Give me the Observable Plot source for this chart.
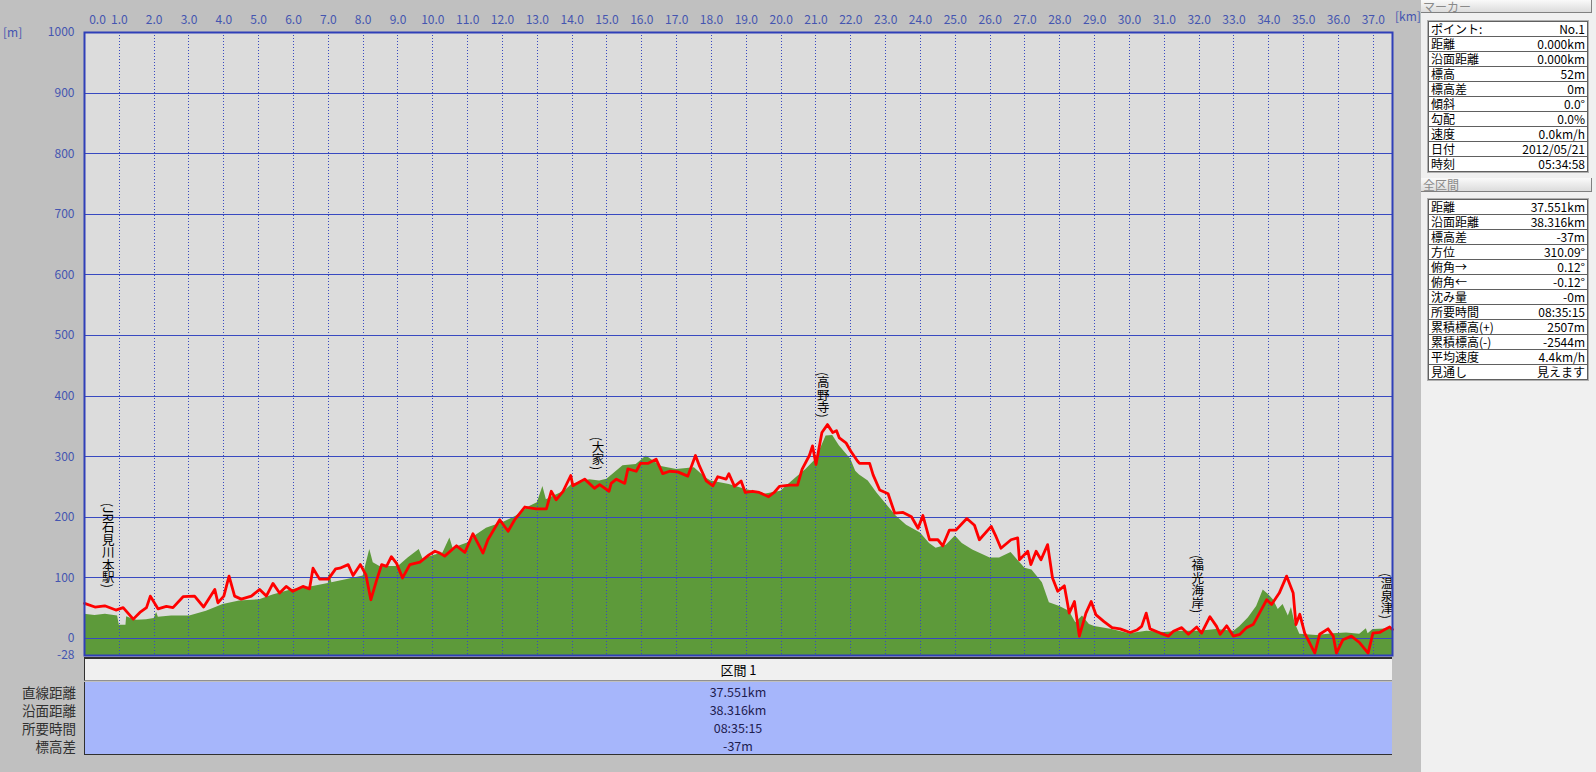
<!DOCTYPE html>
<html><head><meta charset="utf-8">
<script src="https://cdn.jsdelivr.net/npm/d3@7"></script>
<script src="https://cdn.jsdelivr.net/npm/@observablehq/plot@0.6"></script>
<style>
html,body{margin:0;padding:0;}
body{width:1596px;height:772px;background:#c0c0c0;position:relative;overflow:hidden;font-family:"Noto Sans CJK JP","Noto Sans",sans-serif;}
#chart{position:absolute;left:0;top:0;width:1421px;height:660px;}
.unit{position:absolute;color:#4455b0;font-size:12px;line-height:14px;}
#right{position:absolute;left:1421px;top:0;width:175px;height:772px;background:#f0f0f0;}
.bar{position:absolute;left:1421px;width:171px;height:13px;background:linear-gradient(#fafafa,#dcdcdc);border-right:1px solid #808080;border-bottom:1px solid #808080;color:#8a8a8a;font-size:12px;line-height:13px;padding-left:2px;box-sizing:border-box;}
table.info{position:absolute;left:1428px;width:160px;border-collapse:collapse;background:#fff;font-size:12px;border:1px solid #606060;outline:1px solid #b0b0b0;}
table.info td{height:14px;line-height:14px;padding:0 2px;border-top:1px solid #606060;white-space:nowrap;color:#000;}
table.info td.v{text-align:right;}
#secHead{position:absolute;left:84px;top:657px;width:1308px;height:24px;background:#f0f0f0;border-top:2px solid #303030;border-left:1px solid #303030;border-bottom:1px solid #909090;box-sizing:border-box;text-align:center;font-size:13px;line-height:22px;color:#000;}
#secBody{position:absolute;left:84px;top:682px;width:1308px;height:73px;background:#a6b6fb;border-left:1px solid #303030;border-bottom:1px solid #303030;box-sizing:border-box;}
.secVal{position:absolute;left:84px;width:1308px;text-align:center;font-size:12.5px;line-height:16px;color:#1e2050;}
.secLab{position:absolute;left:0;width:76px;text-align:right;font-size:13.5px;line-height:16px;color:#303030;}
</style></head>
<body>
<div id="chart"></div>
<div class="unit" style="left:3px;top:25px;">[m]</div>
<div class="unit" style="left:1395px;top:9px;">[km]</div>
<div id="right"></div>
<div class="bar" style="top:0;">マーカー</div>
<div class="bar" style="top:178px;height:14px;line-height:14px;">全区間</div>
<div id="secHead"></div>
<div id="secBody"></div>
<script>
// ---- data ----
const terrainKm = [0,0.3,0.6,0.95,1.0,1.19,1.21,1.3,1.5,1.78,2.0,2.07,2.12,2.5,3.02,3.5,3.98,4.45,5.03,5.41,5.98,6.56,7.0,7.04,7.1,7.51,8.0,8.19,8.29,8.48,8.76,9.01,9.29,9.61,9.72,10.02,10.29,10.49,10.58,11.02,11.25,11.54,11.68,12.0,12.4,12.78,13.0,13.16,13.26,13.54,13.78,13.99,14.5,14.79,15.0,15.46,15.84,16.13,16.56,17.0,17.51,17.84,17.99,18.51,18.99,19.52,19.99,20.38,20.71,21.0,21.29,21.48,21.67,22.0,22.14,22.25,22.5,22.75,23.0,23.3,23.6,24.0,24.26,24.45,24.74,25.0,25.2,25.5,26.0,26.27,26.6,27.0,27.2,27.5,27.7,28.0,28.27,28.46,28.65,28.85,29.0,29.5,30.0,30.5,31.0,31.5,32.0,32.5,33.0,33.17,33.41,33.65,33.84,33.98,34.13,34.27,34.41,34.56,34.65,34.75,34.89,35.37,35.85,36.23,36.61,36.8,36.85,36.99,37.551];
const terrainM  = [40,38,40,37,22,22,36,34,30,31,33,43,35,37,37,45,56,62,64,72,81,86,91,110,92,97,103,147,125,119,119,119,133,147,131,137,141,166,149,158,171,182,185,191,202,218,224,251,229,237,243,254,262,260,263,285,287,301,284,279,282,265,260,254,246,238,243,263,279,296,334,335,318,296,276,270,260,240,223,202,187,174,157,149,154,169,157,146,133,133,142,116,113,92,59,53,45,26,37,23,20,15,8,12,10,12,12,15,12,20,34,53,80,73,64,48,56,37,51,26,7,5,8,9,7,16,8,15,16];
const trackKm = [0,0.3,0.58,0.9,1.11,1.4,1.59,1.78,1.89,2.11,2.35,2.54,2.83,3.16,3.42,3.74,3.83,4.0,4.15,4.31,4.5,4.79,5.03,5.22,5.41,5.6,5.79,5.98,6.27,6.46,6.56,6.75,7.0,7.21,7.33,7.57,7.71,7.92,8.08,8.22,8.38,8.53,8.67,8.81,8.96,9.13,9.34,9.63,9.89,10.06,10.2,10.34,10.68,10.92,11.15,11.44,11.58,11.92,12.16,12.35,12.64,12.97,13.26,13.4,13.54,13.74,13.96,14.02,14.36,14.64,14.79,15.06,15.12,15.27,15.51,15.6,15.84,15.96,16.17,16.41,16.6,16.8,17.03,17.32,17.54,17.66,17.85,18.04,18.18,18.42,18.5,18.66,18.85,18.97,19.18,19.37,19.64,19.8,19.95,20.24,20.47,20.6,20.81,20.9,21.0,21.17,21.33,21.48,21.59,21.67,21.86,22.0,22.19,22.25,22.54,22.64,22.83,23.07,23.26,23.5,23.74,23.93,24.07,24.26,24.5,24.64,24.83,25.02,25.33,25.55,25.69,26.03,26.17,26.31,26.6,26.79,26.84,27.08,27.17,27.32,27.46,27.65,27.79,27.94,28.13,28.27,28.42,28.56,28.75,28.9,29.04,29.27,29.5,29.73,30.02,30.21,30.35,30.48,30.59,30.88,31.12,31.26,31.5,31.69,31.93,32.07,32.31,32.5,32.6,32.79,32.98,33.17,33.36,33.55,33.79,33.94,34.08,34.3,34.51,34.7,34.78,34.89,35.03,35.32,35.46,35.7,35.85,35.94,36.13,36.37,36.61,36.85,36.99,37.18,37.33,37.47,37.551];
const trackM  = [58,52,54,47,51,32,43,51,70,49,53,51,69,70,52,81,59,70,103,70,65,70,81,70,91,75,86,78,86,82,116,98,98,115,116,122,104,122,105,64,95,122,119,135,124,100,122,126,138,144,141,136,153,142,173,141,163,196,177,196,217,214,214,243,229,243,269,252,263,248,254,243,256,263,256,280,276,289,289,296,272,276,275,268,302,284,260,252,267,263,272,251,260,241,243,241,234,241,251,253,253,279,302,318,287,340,353,340,343,331,323,309,293,289,289,270,245,239,207,208,201,182,203,163,163,153,179,179,198,187,163,185,168,149,163,166,130,144,122,144,130,155,100,78,87,42,61,4,42,61,39,28,18,16,10,14,20,42,16,9,4,12,18,7,19,9,36,20,7,21,4,7,18,23,48,64,56,75,103,75,23,40,9,-24,7,16,4,-24,-2,4,-7,-24,9,10,15,19,15];
const placeNames = ["(JR石見川本駅)","(大家)","(高野寺)","(福光海岸)","(温泉津)"];
const placeKm    = [0.68,14.74,21.21,31.96,37.39];
const placeTop   = [224,333,440,138,108];
const xTickValues = d3.range(0, 38);
const yTickValues = [-28,0,100,200,300,400,500,600,700,800,900,1000];
const yGridValues = [0,100,200,300,400,500,600,700,800,900,1000];

const markerLabels = ["ポイント:","距離","沿面距離","標高","標高差","傾斜","勾配","速度","日付","時刻"];
const markerValues = ["No.1","0.000km","0.000km","52m","0m","0.0°","0.0%","0.0km/h","2012/05/21","05:34:58"];
const totalLabels  = ["距離","沿面距離","標高差","方位","俯角→","俯角←","沈み量","所要時間","累積標高(+)","累積標高(-)","平均速度","見通し"];
const totalValues  = ["37.551km","38.316km","-37m","310.09°","0.12°","-0.12°","-0m","08:35:15","2507m","-2544m","4.4km/h","見えます"];
const sectionName   = "区間 1";
const sectionLabels = ["直線距離","沿面距離","所要時間","標高差"];
const sectionValues = ["37.551km","38.316km","08:35:15","-37m"];

// ---- chart ----
const terrain = terrainKm.map((k,i)=>({km:k, m:terrainM[i]}));
const track = trackKm.map((k,i)=>({km:k, m:trackM[i]}));
const places = placeNames.map((n,i)=>({name:n, km:placeKm[i], top:placeTop[i]}));
const blue = "#3849c0";
const axisColor = "#4455b0";
const font = '"Noto Sans CJK JP","Noto Sans",sans-serif';

const chart = Plot.plot({
  width: 1421, height: 660,
  marginLeft: 84, marginRight: 29, marginTop: 32, marginBottom: 5,
  style: {background: "transparent", fontFamily: font, fontSize: "12px", overflow: "visible"},
  x: {domain: [0, 37.551], axis: null, label: null},
  y: {domain: [-28, 1000], axis: null, label: null},
  marks: [
    Plot.frame({fill: "#dcdcdc"}),
    Plot.areaY(terrain, {x: "km", y1: -28, y2: "m", fill: "#5d9a3a"}),
    Plot.ruleY(yGridValues, {stroke: blue, strokeWidth: 1, shapeRendering: "crispEdges"}),
    Plot.ruleX(xTickValues.slice(1), {stroke: blue, strokeWidth: 1, strokeDasharray: "1,2", shapeRendering: "crispEdges"}),
    Plot.line(track, {x: "km", y: "m", stroke: "#ff0000", strokeWidth: 2.8, strokeLinejoin: "round"}),
    Plot.text(places, {x: "km", y: "top", text: "name", textAnchor: "start", fontSize: 12.5, fill: "#000"}),
    Plot.frame({stroke: "#2f3fb8", strokeWidth: 2}),
    Plot.axisX(xTickValues.slice(1), {anchor: "top", label: null, tickSize: 0, tickPadding: 9, tickFormat: d => d.toFixed(1), fill: axisColor, fontSize: 12}),
    Plot.axisX([0], {anchor: "top", label: null, tickSize: 0, tickPadding: 9, dx: 13, tickFormat: d => d.toFixed(1), fill: axisColor, fontSize: 12}),
    Plot.axisY(yTickValues, {anchor: "left", label: null, tickSize: 0, tickPadding: 10, tickFormat: d => String(d), fill: axisColor, fontSize: 12})
  ]
});
d3.select(chart).selectAll('g[aria-label="text"] text')
  .attr("y", null)
  .style("writing-mode", "vertical-rl");
document.getElementById("chart").appendChild(chart);

// ---- right panel ----
function makeTable(top, labels, values) {
  const t = document.createElement("table");
  t.className = "info";
  t.style.top = top + "px";
  labels.forEach((l, i) => {
    const tr = document.createElement("tr");
    const a = document.createElement("td"); a.textContent = l;
    const b = document.createElement("td"); b.textContent = values[i]; b.className = "v";
    tr.appendChild(a); tr.appendChild(b); t.appendChild(tr);
  });
  document.body.appendChild(t);
}
makeTable(21, markerLabels, markerValues);
makeTable(199, totalLabels, totalValues);

// ---- bottom section ----
document.getElementById("secHead").textContent = sectionName;
const rowY = [692, 710, 728, 746];
sectionLabels.forEach((l, i) => {
  const d = document.createElement("div"); d.className = "secLab";
  d.style.top = (rowY[i] - 8) + "px"; d.textContent = l; document.body.appendChild(d);
  const v = document.createElement("div"); v.className = "secVal";
  v.style.top = (rowY[i] - 8) + "px"; v.textContent = sectionValues[i]; document.body.appendChild(v);
});
</script>
</body></html>
